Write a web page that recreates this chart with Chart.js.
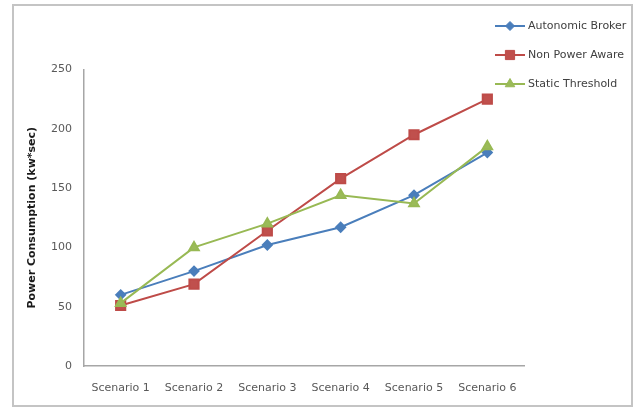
<!DOCTYPE html>
<html>
<head>
<meta charset="utf-8">
<script src="https://cdn.jsdelivr.net/npm/chart.js@4/dist/chart.umd.min.js"></script>
<style>
  html, body { margin: 0; padding: 0; background: #fff; }
  #wrap { width: 636px; height: 408px; position: relative; }
</style>
</head>
<body>
<div id="wrap"><canvas id="chart" width="636" height="408"></canvas></div>
<script>
// Power consumption per scenario for three allocation strategies
const scenarios = ['Scenario 1', 'Scenario 2', 'Scenario 3', 'Scenario 4', 'Scenario 5', 'Scenario 6'];
const autonomicBroker = [60, 80, 102, 117, 144, 180];
const nonPowerAware   = [51, 69, 114, 158, 195, 225];
const staticThreshold = [53, 100, 120, 144, 137, 185];
const yTicks = [0, 50, 100, 150, 200, 250];

const FONT = 'DejaVu Sans';

// Outer frame around the whole figure
const framePlugin = {
  id: 'frame',
  beforeDraw(chart) {
    const ctx = chart.ctx;
    ctx.save();
    ctx.fillStyle = '#ffffff';
    ctx.fillRect(0, 0, chart.width, chart.height);
    ctx.strokeStyle = '#c4c4c4';
    ctx.lineWidth = 2;
    ctx.strokeRect(13, 5, 619, 401);
    ctx.restore();
  }
};

// Vertical legend at the top right with line + marker samples
const sideLegend = {
  id: 'sideLegend',
  afterDraw(chart) {
    const ctx = chart.ctx;
    const rows = [26, 55, 84];
    ctx.save();
    chart.data.datasets.forEach((ds, i) => {
      const y = rows[i];
      ctx.strokeStyle = ds.borderColor;
      ctx.lineWidth = 2;
      ctx.beginPath();
      ctx.moveTo(495, y);
      ctx.lineTo(525, y);
      ctx.stroke();
      ctx.fillStyle = ds.pointBackgroundColor;
      ctx.strokeStyle = ds.pointBorderColor;
      ctx.lineWidth = 1;
      Chart.helpers.drawPoint(ctx, {
        pointStyle: ds.pointStyle,
        radius: ds.pointRadius,
        borderWidth: 1,
        rotation: 0
      }, 510, y);
      ctx.fillStyle = '#404040';
      ctx.font = '11px "' + FONT + '"';
      ctx.textAlign = 'left';
      ctx.textBaseline = 'middle';
      ctx.fillText(ds.label, 528, y + 0.5);
    });
    ctx.restore();
  }
};

new Chart(document.getElementById('chart'), {
  type: 'line',
  data: {
    labels: scenarios,
    datasets: [
      {
        label: 'Autonomic Broker',
        data: autonomicBroker,
        order: 3,
        borderColor: '#4a7ebb',
        backgroundColor: '#4a7ebb',
        pointBackgroundColor: '#4a7ebb',
        pointBorderColor: '#4a7ebb',
        pointStyle: 'rectRot',
        pointRadius: 4.5,
        borderWidth: 2,
        tension: 0
      },
      {
        label: 'Non Power Aware',
        data: nonPowerAware,
        order: 2,
        borderColor: '#be4b48',
        backgroundColor: '#c0504d',
        pointBackgroundColor: '#c0504d',
        pointBorderColor: '#be4b48',
        pointStyle: 'rect',
        pointRadius: 6.5,
        borderWidth: 2,
        tension: 0
      },
      {
        label: 'Static Threshold',
        data: staticThreshold,
        order: 1,
        borderColor: '#98b954',
        backgroundColor: '#9bbb59',
        pointBackgroundColor: '#9bbb59',
        pointBorderColor: '#98b954',
        pointStyle: 'triangle',
        pointRadius: 5.5,
        borderWidth: 2,
        tension: 0
      }
    ]
  },
  options: {
    responsive: false,
    animation: false,
    events: [],
    layout: { padding: { left: 0, right: 112, top: 69.5, bottom: 0 } },
    plugins: {
      legend: { display: false },
      tooltip: { enabled: false }
    },
    scales: {
      x: {
        offset: true,
        grid: { display: false, drawTicks: false },
        border: { display: true, color: '#a6a6a6', width: 1.5 },
        ticks: {
          color: '#595959',
          font: { family: FONT, size: 11 },
          padding: 16,
          maxRotation: 0
        },
        afterFit(scale) { scale.height = 42; }
      },
      y: {
        min: 0,
        max: 250,
        afterBuildTicks(scale) { scale.ticks = yTicks.map(v => ({ value: v })); },
        grid: { display: false, drawTicks: false },
        border: { display: true, color: '#a6a6a6', width: 1.5 },
        ticks: {
          color: '#595959',
          font: { family: FONT, size: 11 },
          padding: 12
        },
        title: {
          display: true,
          text: 'Power Consumption (kw*sec)',
          color: '#1a1a1a',
          font: { family: FONT, size: 11, weight: 'bold' },
          padding: { top: 26, bottom: 0 }
        },
        afterFit(scale) { scale.width = 84; }
      }
    }
  },
  plugins: [framePlugin, sideLegend]
});
</script>
</body>
</html>
